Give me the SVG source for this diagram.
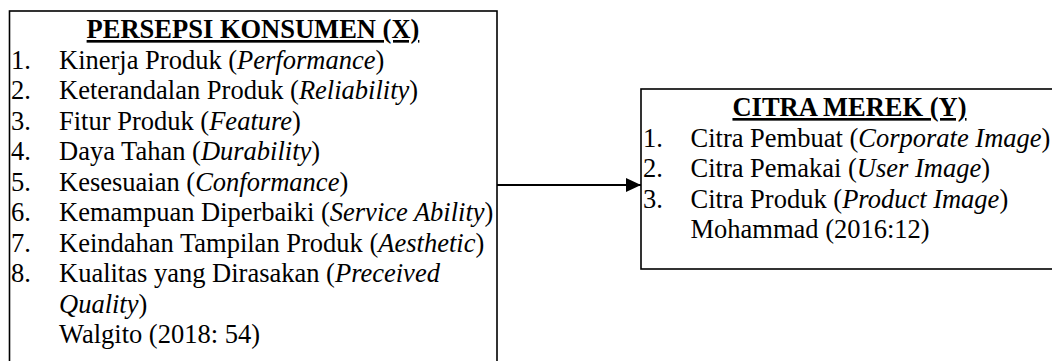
<svg xmlns="http://www.w3.org/2000/svg" width="1052" height="361" viewBox="0 0 1052 361">
  <style>
    .box { fill: #ffffff; stroke: #000000; stroke-width: 1.6; }
    .t { font-family: "Liberation Serif", "Times New Roman", serif; font-size: 26.5px; fill: #000000; }
    .h { font-weight: bold; text-decoration: underline; text-anchor: middle; }
    .i { font-style: italic; }
    .link { stroke: #000000; stroke-width: 2.2; fill: none; }
  </style>
  <defs>
    <marker id="arrow" markerUnits="userSpaceOnUse" markerWidth="16" markerHeight="16" refX="15" refY="8" orient="auto">
      <path d="M0,1 L15,8 L0,15 Z" fill="#000000"/>
    </marker>
  </defs>
  <rect width="1052" height="361" fill="#ffffff"/>

  <!-- Variable X: consumer perception -->
  <g id="persepsi-konsumen">
    <rect class="box" x="9.5" y="11" width="487.5" height="360"/>
    <text class="t h" x="253" y="38">PERSEPSI KONSUMEN (X)</text>
    <text class="t" x="11" y="68.5">1.</text>
    <text class="t" x="59" y="68.5">Kinerja Produk (<tspan class="i">Performance</tspan>)</text>
    <text class="t" x="11" y="99">2.</text>
    <text class="t" x="59" y="99">Keterandalan Produk (<tspan class="i">Reliability</tspan>)</text>
    <text class="t" x="11" y="129.5">3.</text>
    <text class="t" x="59" y="129.5">Fitur Produk (<tspan class="i">Feature</tspan>)</text>
    <text class="t" x="11" y="160">4.</text>
    <text class="t" x="59" y="160">Daya Tahan (<tspan class="i">Durability</tspan>)</text>
    <text class="t" x="11" y="190.5">5.</text>
    <text class="t" x="59" y="190.5">Kesesuaian (<tspan class="i">Conformance</tspan>)</text>
    <text class="t" x="11" y="221">6.</text>
    <text class="t" x="59" y="221">Kemampuan Diperbaiki (<tspan class="i">Service Ability</tspan>)</text>
    <text class="t" x="11" y="251.5">7.</text>
    <text class="t" x="59" y="251.5">Keindahan Tampilan Produk (<tspan class="i">Aesthetic</tspan>)</text>
    <text class="t" x="11" y="282">8.</text>
    <text class="t" x="59" y="282">Kualitas yang Dirasakan (<tspan class="i">Preceived</tspan></text>
    <text class="t" x="59" y="312.5"><tspan class="i">Quality</tspan>)</text>
    <text class="t" x="59" y="343">Walgito (2018: 54)</text>
  </g>

  <!-- Variable Y: brand image -->
  <g id="citra-merek">
    <rect class="box" x="641" y="89" width="430" height="180"/>
    <text class="t h" x="849.5" y="116">CITRA MEREK (Y)</text>
    <text class="t" x="643" y="146.5">1.</text>
    <text class="t" x="690.5" y="146.5">Citra Pembuat (<tspan class="i">Corporate Image</tspan>)</text>
    <text class="t" x="643" y="177">2.</text>
    <text class="t" x="690.5" y="177">Citra Pemakai (<tspan class="i">User Image</tspan>)</text>
    <text class="t" x="643" y="207.5">3.</text>
    <text class="t" x="690.5" y="207.5">Citra Produk (<tspan class="i">Product Image</tspan>)</text>
    <text class="t" x="690.5" y="238">Mohammad (2016:12)</text>
  </g>

  <!-- Connectors -->
  <g id="connectors">
    <line class="link" x1="497" y1="185" x2="641" y2="185" marker-end="url(#arrow)"/>
  </g>
</svg>
